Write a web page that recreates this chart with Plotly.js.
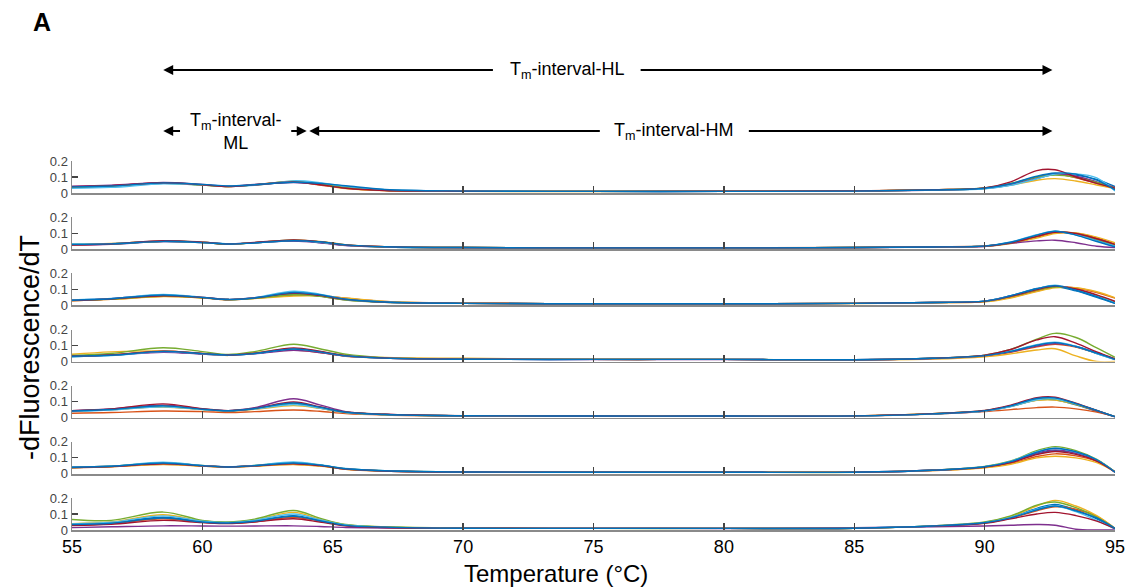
<!DOCTYPE html>
<html>
<head>
<meta charset="utf-8">
<script src="https://cdn.plot.ly/plotly-3.0.1.min.js"></script>
<style>html,body{margin:0;padding:0;background:#fff;}#chart{width:1125px;height:588px;}</style>
</head>
<body>
<div id="chart"></div>
<script>
// Temperature grid (°C) shared by all curves
const temps = [55, 56.5, 58.5, 60, 61, 62, 63.5, 64.5, 65.5, 67, 70, 75, 80, 85, 88, 90, 91, 92, 92.7, 93.5, 94.3, 95];
const xTicks = [55, 60, 65, 70, 75, 80, 85, 90, 95];
const yTicks = [0, 0.1, 0.2];
const curveColors = ['#0072BD', '#D95319', '#EDB120', '#7E2F8E', '#77AC30', '#4DBEEE', '#A2142F', '#0072BD'];

// -dF/dT curves (top to bottom)
const panel1 = [
  [0.035,0.042,0.060,0.050,0.042,0.050,0.068,0.062,0.040,0.020,0.012,0.010,0.010,0.012,0.018,0.028,0.050,0.090,0.115,0.112,0.085,0.040],
  [0.040,0.045,0.065,0.052,0.040,0.052,0.070,0.050,0.030,0.016,0.011,0.010,0.011,0.013,0.020,0.030,0.056,0.100,0.118,0.095,0.060,0.030],
  [0.038,0.046,0.062,0.050,0.041,0.050,0.072,0.052,0.028,0.015,0.010,0.009,0.010,0.012,0.019,0.028,0.050,0.080,0.090,0.075,0.050,0.028],
  [0.042,0.048,0.066,0.053,0.043,0.053,0.066,0.055,0.032,0.017,0.011,0.010,0.010,0.012,0.018,0.029,0.055,0.098,0.120,0.105,0.070,0.035],
  [0.036,0.044,0.060,0.049,0.040,0.050,0.074,0.058,0.034,0.017,0.012,0.011,0.011,0.013,0.020,0.032,0.060,0.100,0.112,0.098,0.066,0.032],
  [0.030,0.035,0.058,0.051,0.042,0.048,0.076,0.065,0.042,0.020,0.012,0.010,0.010,0.012,0.018,0.027,0.048,0.088,0.118,0.120,0.095,0.012],
  [0.040,0.046,0.064,0.051,0.040,0.051,0.069,0.052,0.030,0.016,0.011,0.010,0.011,0.013,0.020,0.032,0.070,0.140,0.145,0.100,0.060,0.030],
  [0.038,0.044,0.063,0.054,0.044,0.052,0.067,0.060,0.045,0.022,0.012,0.010,0.010,0.012,0.019,0.030,0.058,0.105,0.125,0.118,0.080,0.020]
];
const panel2 = [
  [0.030,0.033,0.048,0.042,0.032,0.040,0.052,0.042,0.024,0.014,0.010,0.008,0.008,0.010,0.014,0.019,0.042,0.085,0.110,0.092,0.055,0.020],
  [0.028,0.034,0.052,0.043,0.031,0.041,0.056,0.046,0.026,0.015,0.010,0.008,0.009,0.010,0.015,0.020,0.038,0.075,0.100,0.100,0.070,0.030],
  [0.030,0.035,0.050,0.044,0.032,0.039,0.054,0.048,0.028,0.015,0.010,0.008,0.008,0.010,0.014,0.018,0.035,0.070,0.098,0.102,0.075,0.040],
  [0.026,0.030,0.047,0.041,0.033,0.040,0.050,0.040,0.022,0.013,0.009,0.007,0.008,0.009,0.013,0.017,0.036,0.052,0.056,0.040,0.018,0.010],
  [0.029,0.033,0.049,0.042,0.031,0.041,0.057,0.045,0.025,0.014,0.010,0.008,0.008,0.010,0.014,0.019,0.040,0.082,0.108,0.096,0.062,0.028],
  [0.032,0.034,0.051,0.043,0.033,0.040,0.055,0.044,0.024,0.014,0.010,0.008,0.008,0.010,0.015,0.020,0.045,0.090,0.112,0.090,0.052,0.018],
  [0.027,0.032,0.053,0.044,0.032,0.042,0.058,0.047,0.026,0.015,0.010,0.008,0.008,0.010,0.014,0.019,0.040,0.080,0.106,0.098,0.065,0.030],
  [0.030,0.033,0.049,0.041,0.032,0.039,0.053,0.046,0.027,0.015,0.010,0.008,0.008,0.010,0.014,0.019,0.043,0.088,0.112,0.088,0.048,0.015]
];
const panel3 = [
  [0.032,0.040,0.062,0.048,0.036,0.045,0.068,0.060,0.036,0.020,0.012,0.010,0.010,0.012,0.018,0.026,0.060,0.105,0.118,0.090,0.050,0.012],
  [0.030,0.038,0.056,0.047,0.035,0.044,0.062,0.062,0.045,0.024,0.013,0.010,0.010,0.012,0.017,0.023,0.050,0.090,0.115,0.108,0.080,0.045],
  [0.028,0.037,0.055,0.046,0.035,0.043,0.058,0.058,0.046,0.025,0.013,0.010,0.010,0.011,0.016,0.022,0.046,0.086,0.110,0.110,0.085,0.048],
  [0.033,0.042,0.064,0.050,0.037,0.047,0.074,0.058,0.034,0.019,0.012,0.010,0.010,0.012,0.018,0.026,0.058,0.100,0.122,0.098,0.060,0.022],
  [0.031,0.039,0.058,0.048,0.036,0.044,0.066,0.057,0.033,0.019,0.012,0.010,0.010,0.012,0.018,0.025,0.055,0.095,0.115,0.100,0.062,0.020],
  [0.034,0.043,0.068,0.050,0.037,0.048,0.088,0.070,0.038,0.021,0.012,0.010,0.010,0.012,0.018,0.026,0.058,0.102,0.126,0.096,0.058,0.015],
  [0.030,0.040,0.060,0.049,0.036,0.046,0.076,0.062,0.037,0.020,0.012,0.010,0.010,0.012,0.018,0.025,0.056,0.098,0.120,0.102,0.065,0.025],
  [0.032,0.041,0.065,0.049,0.036,0.046,0.080,0.066,0.038,0.021,0.012,0.010,0.010,0.012,0.018,0.026,0.060,0.104,0.122,0.094,0.054,0.012]
];
const panel4 = [
  [0.030,0.038,0.060,0.047,0.040,0.049,0.074,0.058,0.034,0.021,0.014,0.013,0.013,0.011,0.020,0.037,0.062,0.100,0.115,0.092,0.050,0.012],
  [0.035,0.042,0.064,0.049,0.041,0.051,0.072,0.056,0.033,0.022,0.015,0.013,0.013,0.011,0.019,0.035,0.058,0.092,0.108,0.090,0.052,0.015],
  [0.045,0.060,0.066,0.050,0.038,0.055,0.078,0.060,0.036,0.025,0.020,0.015,0.013,0.010,0.015,0.030,0.048,0.072,0.080,0.035,0.000,0.000],
  [0.032,0.040,0.058,0.046,0.039,0.048,0.070,0.056,0.034,0.021,0.014,0.012,0.012,0.011,0.019,0.036,0.060,0.096,0.112,0.094,0.054,0.016],
  [0.038,0.050,0.086,0.062,0.044,0.062,0.108,0.080,0.045,0.024,0.015,0.013,0.013,0.011,0.021,0.040,0.075,0.140,0.176,0.150,0.085,0.026],
  [0.031,0.037,0.062,0.048,0.040,0.050,0.080,0.062,0.036,0.022,0.015,0.013,0.013,0.011,0.020,0.038,0.065,0.105,0.120,0.095,0.050,0.014],
  [0.034,0.041,0.065,0.050,0.041,0.052,0.085,0.064,0.037,0.022,0.015,0.013,0.013,0.011,0.020,0.040,0.075,0.135,0.155,0.115,0.060,0.016],
  [0.033,0.039,0.063,0.049,0.040,0.050,0.078,0.060,0.035,0.021,0.014,0.013,0.013,0.011,0.020,0.037,0.063,0.102,0.118,0.094,0.052,0.013]
];
const panel5 = [
  [0.040,0.050,0.070,0.052,0.043,0.055,0.085,0.060,0.032,0.020,0.012,0.010,0.010,0.011,0.024,0.042,0.070,0.110,0.112,0.080,0.040,0.006],
  [0.028,0.032,0.042,0.038,0.032,0.038,0.048,0.040,0.025,0.016,0.010,0.009,0.009,0.010,0.022,0.038,0.050,0.063,0.066,0.055,0.035,0.008],
  [0.042,0.050,0.066,0.050,0.042,0.052,0.075,0.058,0.032,0.020,0.012,0.010,0.010,0.011,0.025,0.044,0.072,0.108,0.110,0.082,0.044,0.006],
  [0.044,0.055,0.078,0.055,0.044,0.062,0.118,0.080,0.038,0.021,0.012,0.010,0.010,0.011,0.024,0.042,0.074,0.118,0.120,0.085,0.042,0.005],
  [0.041,0.052,0.072,0.053,0.043,0.056,0.090,0.064,0.034,0.020,0.012,0.010,0.010,0.011,0.025,0.043,0.072,0.114,0.116,0.084,0.044,0.006],
  [0.039,0.048,0.068,0.051,0.043,0.054,0.082,0.060,0.032,0.020,0.012,0.010,0.010,0.011,0.024,0.042,0.070,0.112,0.118,0.086,0.046,0.007],
  [0.043,0.054,0.086,0.056,0.044,0.058,0.098,0.068,0.035,0.021,0.012,0.010,0.010,0.011,0.025,0.045,0.078,0.125,0.128,0.090,0.045,0.006],
  [0.042,0.051,0.074,0.053,0.043,0.057,0.092,0.066,0.034,0.020,0.012,0.010,0.010,0.011,0.024,0.044,0.074,0.120,0.124,0.088,0.046,0.006]
];
const panel6 = [
  [0.040,0.046,0.064,0.050,0.043,0.050,0.064,0.052,0.030,0.018,0.011,0.010,0.010,0.010,0.022,0.043,0.072,0.125,0.145,0.128,0.085,0.012],
  [0.038,0.044,0.060,0.049,0.042,0.049,0.060,0.050,0.029,0.018,0.011,0.010,0.010,0.011,0.021,0.040,0.064,0.108,0.125,0.112,0.078,0.014],
  [0.039,0.045,0.058,0.048,0.042,0.048,0.058,0.048,0.028,0.017,0.011,0.010,0.012,0.012,0.020,0.038,0.060,0.100,0.110,0.100,0.070,0.012],
  [0.041,0.047,0.066,0.051,0.043,0.051,0.066,0.054,0.031,0.018,0.011,0.010,0.010,0.010,0.022,0.044,0.074,0.130,0.150,0.130,0.085,0.010],
  [0.040,0.047,0.070,0.052,0.044,0.052,0.070,0.056,0.032,0.019,0.011,0.010,0.010,0.010,0.023,0.046,0.080,0.145,0.170,0.145,0.090,0.012],
  [0.042,0.048,0.072,0.052,0.044,0.052,0.074,0.057,0.033,0.019,0.011,0.010,0.010,0.010,0.022,0.045,0.078,0.138,0.158,0.136,0.088,0.011],
  [0.039,0.045,0.062,0.050,0.043,0.050,0.062,0.051,0.030,0.018,0.011,0.010,0.010,0.010,0.022,0.042,0.070,0.120,0.140,0.122,0.080,0.011],
  [0.041,0.047,0.068,0.051,0.043,0.051,0.068,0.055,0.032,0.019,0.011,0.010,0.010,0.010,0.022,0.044,0.076,0.135,0.160,0.138,0.088,0.010]
];
const panel7 = [
  [0.035,0.045,0.080,0.052,0.045,0.058,0.090,0.060,0.030,0.018,0.011,0.010,0.010,0.011,0.025,0.046,0.080,0.135,0.160,0.125,0.070,0.008],
  [0.030,0.040,0.070,0.048,0.042,0.052,0.080,0.056,0.028,0.017,0.011,0.010,0.010,0.011,0.024,0.044,0.075,0.120,0.145,0.130,0.085,0.010],
  [0.040,0.050,0.095,0.056,0.048,0.062,0.110,0.068,0.032,0.019,0.011,0.010,0.010,0.011,0.026,0.048,0.085,0.150,0.185,0.150,0.090,0.010],
  [0.015,0.020,0.026,0.025,0.024,0.025,0.026,0.022,0.016,0.012,0.010,0.012,0.009,0.015,0.020,0.025,0.030,0.034,0.030,0.005,0.000,0.000],
  [0.066,0.060,0.112,0.060,0.050,0.068,0.122,0.074,0.034,0.020,0.012,0.010,0.010,0.011,0.026,0.050,0.088,0.155,0.175,0.140,0.080,0.008],
  [0.038,0.048,0.088,0.055,0.047,0.060,0.100,0.064,0.031,0.018,0.011,0.010,0.010,0.011,0.025,0.045,0.078,0.130,0.150,0.115,0.060,0.006],
  [0.028,0.036,0.060,0.046,0.040,0.050,0.070,0.050,0.026,0.016,0.011,0.010,0.010,0.011,0.024,0.042,0.070,0.100,0.110,0.090,0.055,0.008],
  [0.034,0.042,0.075,0.050,0.044,0.055,0.085,0.058,0.029,0.018,0.011,0.010,0.010,0.011,0.025,0.045,0.076,0.125,0.150,0.120,0.075,0.010]
];
const panels = [panel1, panel2, panel3, panel4, panel5, panel6, panel7];

// Tm interval markers (°C)
const tmML = [58.5, 64.0];
const tmHM = [64.1, 92.6];
const tmHL = [58.5, 92.6];

const FONT = 'Liberation Sans, Arial, sans-serif';
const W = 1125, H = 588;
const mL = 72, mR = 10, mT = 161, mB = 58;
const plotH = H - mT - mB;
const panelH = 32, step = (plotH - panelH) / 6;

const traces = [];
const layout = {
  width: W, height: H,
  margin: {l: mL, r: mR, t: mT, b: mB, pad: 0},
  paper_bgcolor: '#fff', plot_bgcolor: 'rgba(0,0,0,0)',
  showlegend: false,
  font: {family: FONT, color: '#000'},
  annotations: [], shapes: []
};

panels.forEach((curves, i) => {
  const n = i + 1;
  const xa = n === 1 ? 'x' : 'x' + n;
  const ya = n === 1 ? 'y' : 'y' + n;
  curves.forEach((vals, k) => {
    traces.push({
      type: 'scatter', mode: 'lines', x: temps, y: vals,
      xaxis: xa, yaxis: ya,
      line: {color: curveColors[k % curveColors.length], width: 1.4, shape: 'spline', smoothing: 1},
      hoverinfo: 'skip'
    });
  });
  const topPx = i * step;
  const d1 = 1 - topPx / plotH;
  const d0 = 1 - (topPx + panelH) / plotH;
  layout['xaxis' + (n === 1 ? '' : n)] = {
    domain: [0, 1], anchor: ya, range: [55, 95],
    showline: true, linecolor: '#8a8a8a', linewidth: 1.8,
    ticks: 'inside', ticklen: 7, tickwidth: 1.5, tickcolor: '#444',
    tickvals: xTicks, ticktext: xTicks.map(String),
    showticklabels: n === 7, tickfont: {size: 18, color: '#000', family: FONT},
    ticklabeloverflow: 'allow',
    showgrid: false, zeroline: false, fixedrange: true, layer: 'above traces'
  };
  layout['yaxis' + (n === 1 ? '' : n)] = {
    domain: [d0, d1], anchor: xa, range: [0, 0.2],
    showline: true, linecolor: '#8a8a8a', linewidth: 1.5,
    ticks: 'inside', ticklen: 6, tickwidth: 1.3, tickcolor: '#444',
    tickvals: yTicks, ticktext: ['0', '0.1', '0.2'],
    tickfont: {size: 13, color: '#444', family: FONT},
    showgrid: false, zeroline: false, fixedrange: true, layer: 'above traces'
  };
});

// helpers: convert pixel position to paper fraction
const py = p => (H - mB - p) / plotH;
const px = p => (p - mL) / (W - mL - mR);

function arrow(tip, tail, yPaper) {
  layout.annotations.push({
    x: tip, y: yPaper, xref: 'x', yref: 'paper',
    ax: tail, ay: 0, axref: 'x', ayref: 'pixel',
    text: '', showarrow: true, arrowhead: 2, arrowsize: 1.1, arrowwidth: 1.8,
    arrowcolor: '#000', standoff: 0, startstandoff: 0
  });
}
function label(text, x, yPaper, size) {
  layout.annotations.push({
    x: x, y: yPaper, xref: 'x', yref: 'paper', text: text, showarrow: false,
    xanchor: 'center', yanchor: 'middle', font: {size: size, family: FONT, color: '#000'}
  });
}

const yHL = py(70), yRow2 = py(131);
// HL arrow (double-headed with gap around label)
arrow(tmHL[0], 71.2, yHL);
arrow(tmHL[1], 76.75, yHL);
label('T<sub>m</sub>-interval-HL', 74.0, yHL, 18);
// ML arrows
arrow(tmML[0], 59.2, yRow2);
arrow(tmML[1], 63.35, yRow2);
label('T<sub>m</sub>-interval-<br>ML', 61.3, py(131.5), 18);
// HM arrow
arrow(tmHM[0], 75.3, yRow2);
arrow(tmHM[1], 80.9, yRow2);
label('T<sub>m</sub>-interval-HM', 78.1, yRow2, 18);

// panel letter and axis titles
layout.annotations.push({
  x: px(42), y: py(22), xref: 'paper', yref: 'paper', text: '<b>A</b>', showarrow: false,
  xanchor: 'center', yanchor: 'middle', font: {size: 25, family: FONT, color: '#000'}
});
layout.annotations.push({
  x: px(556), y: py(573), xref: 'paper', yref: 'paper', text: 'Temperature (°C)', showarrow: false,
  xanchor: 'center', yanchor: 'middle', font: {size: 24, family: FONT, color: '#000'}
});
layout.annotations.push({
  x: px(30), y: py(348), xref: 'paper', yref: 'paper', text: '-dFluorescence/dT', showarrow: false,
  textangle: -90, xanchor: 'center', yanchor: 'middle', font: {size: 27, family: FONT, color: '#000'}
});

Plotly.newPlot('chart', traces, layout, {staticPlot: true, displayModeBar: false});
</script>
</body>
</html>
